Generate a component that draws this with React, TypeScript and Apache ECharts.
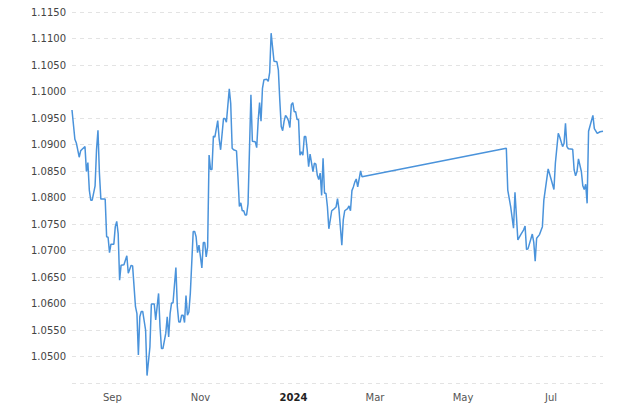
import React, { useEffect, useRef } from "react";
import * as echarts from "echarts";

const dates: string[] = [
  "2023-08-04","2023-08-06","2023-08-07","2023-08-09","2023-08-10","2023-08-11","2023-08-13","2023-08-14","2023-08-15","2023-08-16",
  "2023-08-17","2023-08-18","2023-08-20","2023-08-21","2023-08-22","2023-08-23","2023-08-24","2023-08-27","2023-08-28","2023-08-29",
  "2023-08-30","2023-08-31","2023-09-02","2023-09-03","2023-09-04","2023-09-05","2023-09-06","2023-09-07","2023-09-09","2023-09-11",
  "2023-09-12","2023-09-14","2023-09-15","2023-09-17","2023-09-18","2023-09-19","2023-09-20","2023-09-21","2023-09-22","2023-09-24",
  "2023-09-25","2023-09-27","2023-09-28","2023-09-30","2023-10-01","2023-10-02","2023-10-03","2023-10-04","2023-10-05","2023-10-06",
  "2023-10-08","2023-10-09","2023-10-10","2023-10-11","2023-10-12","2023-10-13","2023-10-15","2023-10-16","2023-10-17","2023-10-18",
  "2023-10-19","2023-10-20","2023-10-21","2023-10-22","2023-10-23","2023-10-24","2023-10-25","2023-10-27","2023-10-28","2023-10-29",
  "2023-10-30","2023-10-31","2023-11-02","2023-11-03","2023-11-04","2023-11-05","2023-11-06","2023-11-07","2023-11-08","2023-11-09",
  "2023-11-10","2023-11-11","2023-11-13","2023-11-14","2023-11-15","2023-11-17","2023-11-18","2023-11-19","2023-11-21","2023-11-22",
  "2023-11-23","2023-11-24","2023-11-26","2023-11-27","2023-11-28","2023-11-29","2023-11-30","2023-12-01","2023-12-02","2023-12-03",
  "2023-12-04","2023-12-06","2023-12-07","2023-12-09","2023-12-10","2023-12-11","2023-12-12","2023-12-13","2023-12-14","2023-12-15",
  "2023-12-17","2023-12-18","2023-12-19","2023-12-20","2023-12-22","2023-12-24","2023-12-25","2023-12-26","2023-12-27","2023-12-28",
  "2023-12-29","2023-12-30","2023-12-31","2024-01-01","2024-01-02","2024-01-03","2024-01-04","2024-01-05","2024-01-06","2024-01-07",
  "2024-01-08","2024-01-09","2024-01-10","2024-01-11","2024-01-12","2024-01-13","2024-01-14","2024-01-15","2024-01-16","2024-01-18",
  "2024-01-19","2024-01-20","2024-01-21","2024-01-22","2024-01-23","2024-01-24","2024-01-25","2024-01-26","2024-01-27","2024-01-28",
  "2024-01-29","2024-01-31","2024-02-01","2024-02-03","2024-02-04","2024-02-05","2024-02-07","2024-02-08","2024-02-09","2024-02-11",
  "2024-02-12","2024-02-13","2024-02-14","2024-02-15","2024-02-16","2024-02-17","2024-02-18","2024-02-20","2024-02-21",
  "2024-05-31","2024-06-01","2024-06-03","2024-06-05","2024-06-06","2024-06-08","2024-06-10","2024-06-12","2024-06-13","2024-06-14",
  "2024-06-15","2024-06-18","2024-06-19","2024-06-20","2024-06-21","2024-06-23","2024-06-25","2024-06-26","2024-06-29","2024-07-01",
  "2024-07-03","2024-07-04","2024-07-06","2024-07-07","2024-07-09","2024-07-10","2024-07-11","2024-07-12","2024-07-13","2024-07-16",
  "2024-07-17","2024-07-18","2024-07-19","2024-07-20","2024-07-22","2024-07-23","2024-07-24","2024-07-25","2024-07-26","2024-07-27",
  "2024-07-30","2024-07-31","2024-08-02","2024-08-04","2024-08-06"
];

const values: number[] = [
  1.0965,1.0910,1.0903,1.0876,1.0888,1.0891,1.0896,1.0849,1.0866,1.0814,
  1.0795,1.0795,1.0822,1.0890,1.0927,1.0846,1.0797,1.0797,1.0726,1.0725,
  1.0696,1.0712,1.0712,1.0745,1.0755,1.0732,1.0644,1.0672,1.0673,1.0690,
  1.0657,1.0672,1.0671,1.0594,1.0581,1.0503,1.0575,1.0585,1.0585,1.0550,
  1.0464,1.0518,1.0599,1.0599,1.0569,1.0594,1.0619,1.0556,1.0515,1.0515,
  1.0544,1.0575,1.0537,1.0581,1.0601,1.0601,1.0668,1.0594,1.0565,1.0565,
  1.0578,1.0578,1.0564,1.0615,1.0578,1.0584,1.0619,1.0736,1.0736,1.0726,
  1.0696,1.0710,1.0667,1.0715,1.0715,1.0688,1.0707,1.0880,1.0853,1.0853,
  1.0916,1.0914,1.0945,1.0910,1.0890,1.0949,1.0949,1.0942,1.1005,1.0977,
  1.0893,1.0890,1.0888,1.0839,1.0783,1.0790,1.0775,1.0775,1.0767,1.0767,
  1.0788,1.0994,1.0906,1.0905,1.0894,1.0944,1.0979,1.0944,1.1006,1.1022,
  1.1023,1.1019,1.1036,1.1110,1.1057,1.1056,1.1041,1.0984,1.0934,1.0926,
  1.0944,1.0955,1.0951,1.0945,1.0932,1.0975,1.0979,1.0962,1.0962,1.0947,
  1.0947,1.0880,1.0886,1.0880,1.0915,1.0915,1.0890,1.0858,1.0882,1.0849,
  1.0865,1.0863,1.0842,1.0834,1.0846,1.0804,1.0874,1.0808,1.0808,1.0783,
  1.0741,1.0775,1.0777,1.0782,1.0798,1.0778,1.0710,1.0758,1.0775,1.0779,
  1.0784,1.0775,1.0813,1.0820,1.0829,1.0835,1.0820,1.0850,1.0839,
  1.0893,1.0814,1.0783,1.0742,1.0810,1.0720,1.0730,1.0739,1.0746,1.0702,
  1.0703,1.0731,1.0716,1.0680,1.0723,1.0730,1.0745,1.0795,1.0854,1.0835,
  1.0815,1.0865,1.0921,1.0914,1.0896,1.0902,1.0940,1.0896,1.0892,1.0891,
  1.0852,1.0841,1.0849,1.0873,1.0849,1.0822,1.0815,1.0825,1.0789,1.0925,
  1.0955,1.0930,1.0921,1.0924,1.0925
];

const xLabelDates: string[] = ["2023-09-01", "2023-11-01", "2024-01-01", "2024-03-01", "2024-05-01", "2024-07-01"];
const monthNames: string[] = ["Jan","Feb","Mar","Apr","May","Jun","Jul","Aug","Sep","Oct","Nov","Dec"];

const yMin = 1.045;
const yMax = 1.115;
const yStep = 0.005;

const toTs = (d: string) => Date.UTC(+d.slice(0, 4), +d.slice(5, 7) - 1, +d.slice(8, 10));

export default function App() {
  const ref = useRef<HTMLDivElement>(null);
  useEffect(() => {
    if (!ref.current) return;
    const chart = echarts.init(ref.current, null, { renderer: "svg" });
    const ts = dates.map(toTs);
    const data = ts.map((t, i) => [t, values[i]]);
    const labelTs = xLabelDates.map(toTs);
    chart.setOption({
      animation: false,
      grid: { left: 72, right: 37, top: 12, bottom: 21, containLabel: false },
      xAxis: {
        type: "value",
        min: ts[0],
        max: ts[ts.length - 1],
        axisLine: { show: false },
        axisTick: { show: false },
        splitLine: { show: false },
        axisLabel: {
          customValues: labelTs,
          margin: 9,
          fontSize: 10,
          fontFamily: "DejaVu Sans",
          color: "#555",
          formatter: (v: number) => {
            const d = new Date(v);
            if (d.getUTCMonth() === 0) return "{y|" + d.getUTCFullYear() + "}";
            return monthNames[d.getUTCMonth()];
          },
          rich: {
            y: { fontWeight: "bold", color: "#222", fontSize: 10, fontFamily: "DejaVu Sans", padding: [0, 0, 0, 10] },
          },
        },
      },
      yAxis: {
        type: "value",
        min: yMin,
        max: yMax,
        interval: yStep,
        axisLine: { show: false },
        axisTick: { show: false },
        splitLine: { lineStyle: { color: "#e3e3e3", type: [4, 4], width: 1 } },
        axisLabel: {
          margin: 6,
          fontSize: 10,
          fontFamily: "DejaVu Sans",
          color: "#444",
          formatter: (v: number) => (Math.abs(v - yMin) < 1e-6 ? "" : v.toFixed(4)),
        },
      },
      series: [
        {
          type: "line",
          data,
          showSymbol: false,
          symbol: "none",
          lineStyle: { color: "#4a93db", width: 1.5 },
        },
      ],
    });
    return () => chart.dispose();
  }, []);
  return <div ref={ref} style={{ position: "absolute", left: 0, top: 0, width: 640, height: 404 }} />;
}
